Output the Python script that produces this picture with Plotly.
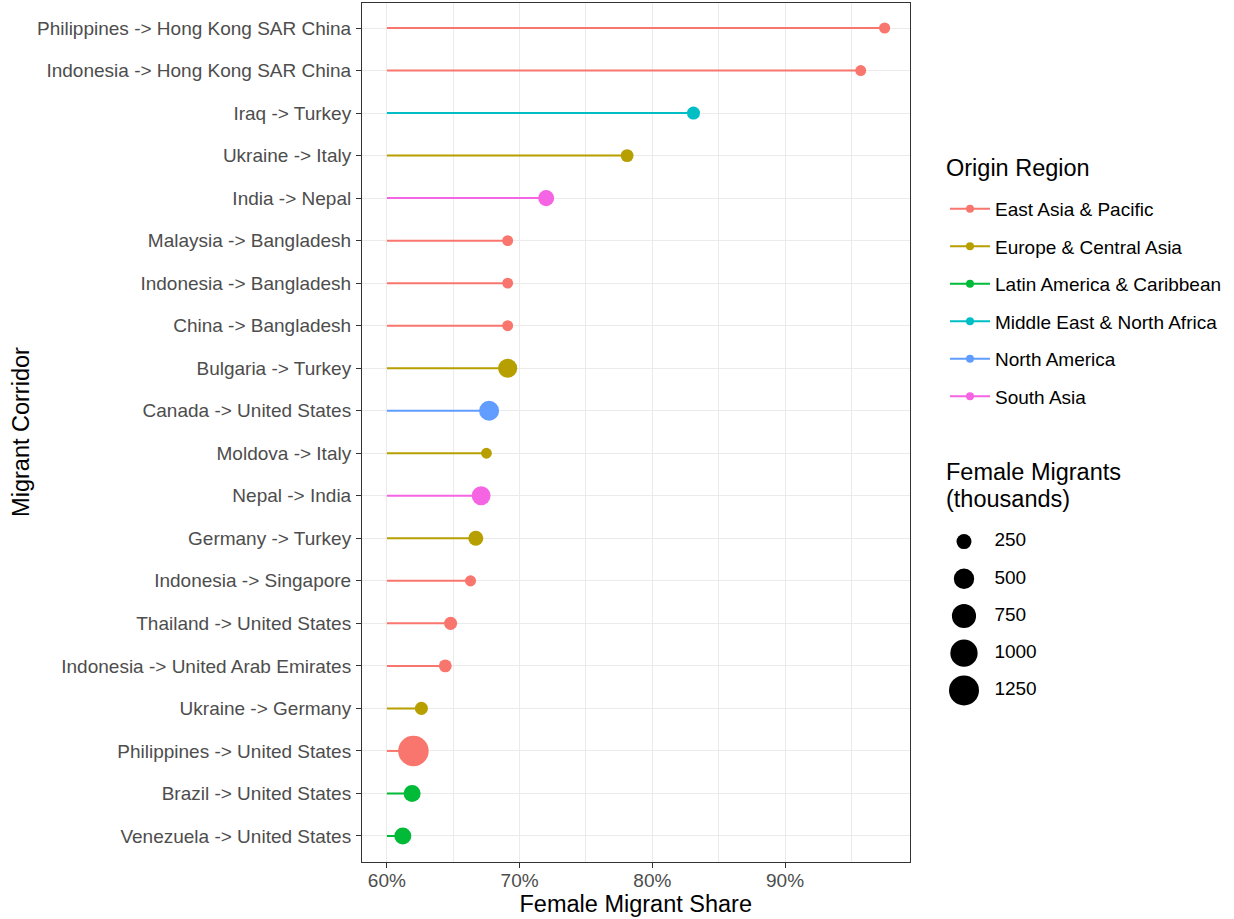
import plotly.graph_objects as go

# ---------------- data ----------------
corridors = [
    "Philippines -> Hong Kong SAR China", "Indonesia -> Hong Kong SAR China",
    "Iraq -> Turkey", "Ukraine -> Italy", "India -> Nepal",
    "Malaysia -> Bangladesh", "Indonesia -> Bangladesh", "China -> Bangladesh",
    "Bulgaria -> Turkey", "Canada -> United States", "Moldova -> Italy",
    "Nepal -> India", "Germany -> Turkey", "Indonesia -> Singapore",
    "Thailand -> United States", "Indonesia -> United Arab Emirates",
    "Ukraine -> Germany", "Philippines -> United States",
    "Brazil -> United States", "Venezuela -> United States",
]
origin_region = [
    "East Asia & Pacific", "East Asia & Pacific", "Middle East & North Africa",
    "Europe & Central Asia", "South Asia", "East Asia & Pacific",
    "East Asia & Pacific", "East Asia & Pacific", "Europe & Central Asia",
    "North America", "Europe & Central Asia", "South Asia",
    "Europe & Central Asia", "East Asia & Pacific", "East Asia & Pacific",
    "East Asia & Pacific", "Europe & Central Asia", "East Asia & Pacific",
    "Latin America & Caribbean", "Latin America & Caribbean",
]
female_share = [0.975, 0.957, 0.831, 0.781, 0.720, 0.691, 0.691, 0.691, 0.691,
                0.677, 0.675, 0.671, 0.667, 0.663, 0.648, 0.644, 0.626, 0.620,
                0.619, 0.612]
female_migrants_k = [145, 140, 190, 185, 290, 140, 140, 140, 430, 480, 140, 420,
                     250, 145, 190, 185, 190, 1330, 330, 330]

regions = ["East Asia & Pacific", "Europe & Central Asia",
           "Latin America & Caribbean", "Middle East & North Africa",
           "North America", "South Asia"]
region_colors = ["#F8766D", "#B79F00", "#00BA38", "#00BFC4", "#619CFF", "#F564E3"]

size_breaks = [250, 500, 750, 1000, 1250]
baseline = 0.60
x_ticks = [0.6, 0.7, 0.8, 0.9]

# ---------------- styling helpers ----------------
W, H = 1234, 919
FONT = "Liberation Sans, Arial, sans-serif"
TXT = 19
TTL = 23.5


def size_px(v):
    # area-style size scale (sqrt), limits 100..1300 thousand
    lo, hi, dmin, dmax = 100.0, 1300.0, 6.5, 30.5
    t = max(0.0, min(1.0, (v - lo) / (hi - lo)))
    return dmin + (dmax - dmin) * t ** 0.5


def px_x(p):
    return p / W


def px_y(p):
    return 1 - p / H


fig = go.Figure()
color_of = dict(zip(regions, region_colors))

# segments
for reg in regions:
    xs, ys = [], []
    for c, r, s in zip(corridors, origin_region, female_share):
        if r == reg:
            xs += [baseline, s, None]
            ys += [c, c, None]
    fig.add_trace(go.Scatter(x=xs, y=ys, mode="lines",
                             line=dict(color=color_of[reg], width=2),
                             showlegend=False, hoverinfo="skip"))

# points
for reg in regions:
    xs, ys, ss = [], [], []
    for c, r, s, m in zip(corridors, origin_region, female_share, female_migrants_k):
        if r == reg:
            xs.append(s)
            ys.append(c)
            ss.append(size_px(m))
    fig.add_trace(go.Scatter(x=xs, y=ys, mode="markers",
                             marker=dict(color=color_of[reg], size=ss, opacity=1,
                                         line=dict(width=0)),
                             showlegend=False))

# colour legend entries
for i, reg in enumerate(regions):
    fig.add_trace(go.Scatter(x=[None], y=[None], mode="lines+markers", name=reg,
                             line=dict(color=color_of[reg], width=2),
                             marker=dict(color=color_of[reg], size=8),
                             legendgroup=reg, showlegend=True))

# size legend (auxiliary axes)
ny = list(range(len(size_breaks)))[::-1]
fig.add_trace(go.Scatter(
    x=[0.0816] * len(size_breaks), y=ny,
    mode="markers", marker=dict(color="#000000", opacity=1,
                                size=[size_px(v) for v in size_breaks],
                                line=dict(width=0)),
    xaxis="x2", yaxis="y2", showlegend=False, hoverinfo="skip"))
fig.add_trace(go.Scatter(
    x=[0.185] * len(size_breaks), y=ny,
    mode="text", text=[str(v) for v in size_breaks], textposition="middle right",
    textfont=dict(family=FONT, size=TXT, color="black"),
    xaxis="x2", yaxis="y2", showlegend=False, hoverinfo="skip"))

n = len(corridors)
fig.update_layout(
    width=W, height=H,
    margin=dict(l=0, r=0, t=0, b=0),
    paper_bgcolor="white", plot_bgcolor="white",
    font=dict(family=FONT, color="black"),
    xaxis=dict(
        domain=[px_x(362), px_x(909.5)],
        range=[0.58125, 0.99375],
        tickvals=x_ticks, tickformat=".0%",
        showgrid=True, gridcolor="#EBEBEB", gridwidth=1.1,
        minor=dict(dtick=0.05, tick0=0.6, showgrid=True, gridcolor="#EBEBEB",
                   gridwidth=0.6),
        zeroline=False, showline=True, linecolor="#333333", linewidth=1, mirror=True,
        ticks="outside", ticklen=5, tickcolor="#333333", tickwidth=1,
        ticklabelstandoff=-3,
        tickfont=dict(family=FONT, size=TXT, color="#4D4D4D"),
        title=dict(text="Female Migrant Share", standoff=4,
                   font=dict(family=FONT, size=TTL, color="black")),
        automargin=False, anchor="y",
    ),
    yaxis=dict(
        domain=[px_y(861.5), px_y(2.5)],
        type="category", categoryorder="array", categoryarray=corridors[::-1],
        range=[-0.6, n - 0.4],
        showgrid=True, gridcolor="#EBEBEB", gridwidth=1.1,
        zeroline=False, showline=True, linecolor="#333333", linewidth=1, mirror=True,
        ticks="outside", ticklen=5, tickcolor="#333333", tickwidth=1,
        ticklabelstandoff=1,
        tickfont=dict(family=FONT, size=TXT, color="#4D4D4D"),
        title=dict(text="Migrant Corridor", standoff=0,
                   font=dict(family=FONT, size=TTL, color="black")),
        automargin=False, anchor="x",
    ),
    xaxis2=dict(domain=[px_x(940), 1.0], range=[0, 1], visible=False,
                fixedrange=True, anchor="y2"),
    yaxis2=dict(domain=[px_y(709), px_y(523)], range=[-0.5, 4.5], visible=False,
                fixedrange=True, anchor="x2"),
    legend=dict(
        x=px_x(945), y=px_y(190), xanchor="left", yanchor="top",
        font=dict(family=FONT, size=TXT, color="black"),
        itemwidth=40, tracegroupgap=9.8, traceorder="grouped",
        bgcolor="rgba(0,0,0,0)",
    ),
    annotations=[
        dict(text="Origin Region", xref="paper", yref="paper",
             x=px_x(944), y=px_y(168), xanchor="left", yanchor="middle",
             showarrow=False, font=dict(family=FONT, size=TTL, color="black")),
        dict(text="Female Migrants", xref="paper", yref="paper",
             x=px_x(944), y=px_y(472), xanchor="left", yanchor="middle",
             showarrow=False, font=dict(family=FONT, size=TTL, color="black")),
        dict(text="(thousands)", xref="paper", yref="paper",
             x=px_x(944), y=px_y(498.5), xanchor="left", yanchor="middle",
             showarrow=False, font=dict(family=FONT, size=TTL, color="black")),
    ],
)

fig.write_html("out.html", config={"displayModeBar": False},
               post_script="document.body.style.margin='0';document.body.style.overflow='hidden';")
